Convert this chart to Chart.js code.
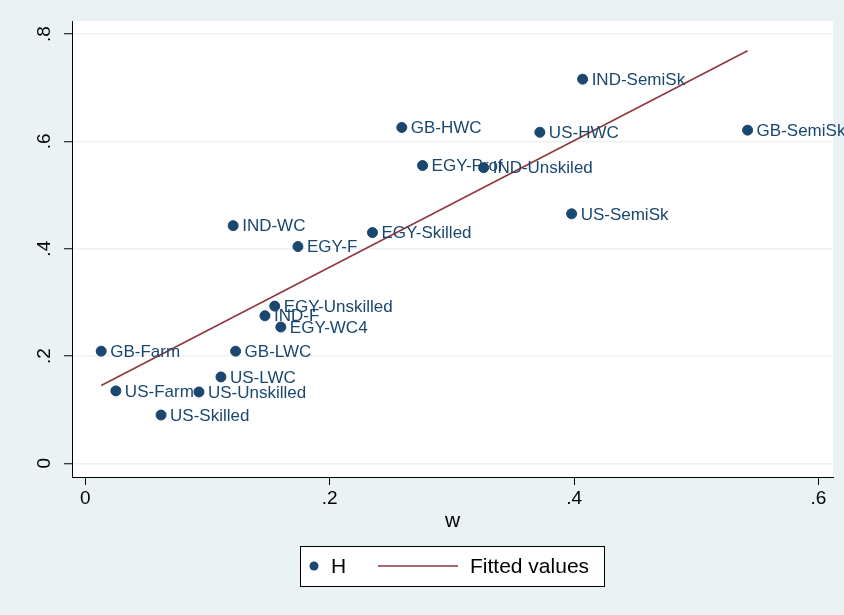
<!DOCTYPE html>
<html>
<head>
<meta charset="utf-8">
<script src="https://cdn.jsdelivr.net/npm/chart.js@4.4.1/dist/chart.umd.min.js"></script>
<style>
  body { margin: 0; background: #eaf2f3; }
  canvas { display: block; }
</style>
</head>
<body>
<canvas id="chart" width="844" height="615"></canvas>
<script>
// Data
const names = ['IND-SemiSk', 'GB-HWC', 'US-HWC', 'GB-SemiSk', 'EGY-Prof', 'IND-Unskiled', 'US-SemiSk',
  'IND-WC', 'EGY-F', 'EGY-Skilled', 'EGY-Unskilled', 'IND-F', 'EGY-WC4', 'GB-Farm', 'GB-LWC',
  'US-LWC', 'US-Farm', 'US-Unskilled', 'US-Skilled'];
const wValues = [0.407, 0.259, 0.372, 0.542, 0.276, 0.326, 0.398,
  0.121, 0.174, 0.235, 0.155, 0.147, 0.160, 0.013, 0.123,
  0.111, 0.025, 0.093, 0.062];
const hValues = [0.716, 0.626, 0.617, 0.621, 0.555, 0.551, 0.465,
  0.443, 0.404, 0.430, 0.293, 0.275, 0.254, 0.209, 0.209,
  0.161, 0.135, 0.133, 0.090];
// fitted line end points
const fitW = [0.013, 0.542];
const fitH = [0.145, 0.769];

const xTicks = [0, 0.2, 0.4, 0.6];
const yTicks = [0, 0.2, 0.4, 0.6, 0.8];

const navy = '#1a476f';
const maroon = '#90353b';
const font = '"Liberation Sans", Arial, sans-serif';

function fmt(v) {
  return v === 0 ? '0' : String(v).replace(/^0/, '');
}

// white plot region
const plotBg = {
  id: 'plotBg',
  beforeDraw(chart) {
    const { ctx, chartArea: a } = chart;
    ctx.save();
    ctx.fillStyle = '#ffffff';
    ctx.fillRect(a.left, a.top, a.right - a.left, a.bottom - a.top);
    ctx.restore();
  }
};

// point labels, rotated y ticks, axis title and legend box
const extras = {
  id: 'extras',
  afterDraw(chart) {
    const ctx = chart.ctx;
    ctx.save();

    // marker labels
    const meta = chart.getDatasetMeta(0);
    ctx.font = '17px ' + font;
    ctx.fillStyle = navy;
    ctx.textAlign = 'left';
    ctx.textBaseline = 'middle';
    meta.data.forEach((pt, i) => {
      ctx.fillText(names[i], pt.x + 9, pt.y + 1);
    });

    // y tick labels (vertical)
    const ys = chart.scales.y;
    ctx.font = '19px ' + font;
    ctx.fillStyle = '#000';
    ctx.textAlign = 'center';
    yTicks.forEach(v => {
      const y = ys.getPixelForValue(v);
      ctx.save();
      ctx.translate(45, y);
      ctx.rotate(-Math.PI / 2);
      ctx.fillText(fmt(v), 0, 0);
      ctx.restore();
    });

    // x axis title
    const xs = chart.scales.x;
    ctx.font = '21px ' + font;
    ctx.fillText('w', (xs.left + xs.right) / 2, 521);

    // legend
    ctx.fillStyle = '#fff';
    ctx.fillRect(300.5, 546.5, 304, 40);
    ctx.strokeStyle = '#000';
    ctx.lineWidth = 1;
    ctx.strokeRect(300.5, 546.5, 304, 40);
    ctx.fillStyle = navy;
    ctx.beginPath();
    ctx.arc(314, 566, 4.5, 0, Math.PI * 2);
    ctx.fill();
    ctx.strokeStyle = maroon;
    ctx.lineWidth = 1.5;
    ctx.beginPath();
    ctx.moveTo(378, 566);
    ctx.lineTo(458, 566);
    ctx.stroke();
    ctx.fillStyle = '#000';
    ctx.textAlign = 'left';
    ctx.fillText('H', 331, 567);
    ctx.fillText('Fitted values', 470, 567);

    ctx.restore();
  }
};

new Chart(document.getElementById('chart'), {
  type: 'scatter',
  data: {
    datasets: [
      {
        label: 'H',
        data: wValues.map((w, i) => ({ x: w, y: hValues[i] })),
        backgroundColor: navy,
        borderColor: navy,
        pointRadius: 5,
        pointHoverRadius: 5
      },
      {
        label: 'Fitted values',
        type: 'line',
        data: fitW.map((w, i) => ({ x: w, y: fitH[i] })),
        borderColor: maroon,
        borderWidth: 1.5,
        pointRadius: 0,
        fill: false
      }
    ]
  },
  options: {
    responsive: false,
    animation: false,
    layout: { padding: { top: 21, right: 11, left: 0, bottom: 0 } },
    plugins: {
      legend: { display: false },
      tooltip: { enabled: false }
    },
    scales: {
      x: {
        type: 'linear',
        min: -0.0109,
        max: 0.6119,
        afterBuildTicks: s => { s.ticks = xTicks.map(v => ({ value: v })); },
        afterFit: s => { s.height = 138; s.paddingLeft = 0; s.paddingRight = 0; },
        grid: { drawOnChartArea: false, tickLength: 8, tickColor: '#000', tickWidth: 1 },
        border: { display: true, color: '#000', width: 1 },
        ticks: {
          color: '#000',
          padding: 2,
          maxRotation: 0,
          font: { family: font, size: 19 },
          callback: v => fmt(v)
        }
      },
      y: {
        type: 'linear',
        min: -0.0255,
        max: 0.8244,
        afterBuildTicks: s => { s.ticks = yTicks.map(v => ({ value: v })); },
        afterFit: s => { s.width = 72; s.paddingTop = 0; s.paddingBottom = 0; },
        grid: { color: '#eaf2f3', lineWidth: 1.5, tickLength: 8, tickColor: '#000', tickWidth: 1 },
        border: { display: true, color: '#000', width: 1 },
        ticks: { color: 'rgba(0,0,0,0)', font: { family: font, size: 19 }, callback: v => fmt(v) }
      }
    }
  },
  plugins: [plotBg, extras]
});
</script>
</body>
</html>
